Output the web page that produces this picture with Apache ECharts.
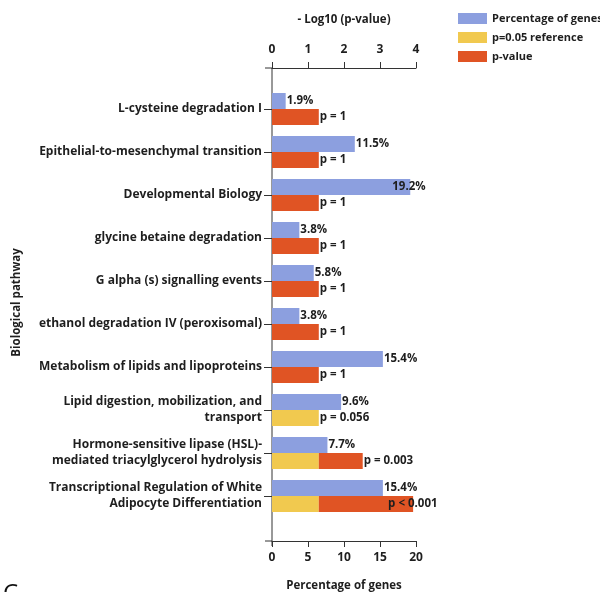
<!DOCTYPE html>
<html>
<head>
<meta charset="utf-8">
<script src="https://cdn.jsdelivr.net/npm/echarts@6/dist/echarts.min.js"></script>
<style>
  html, body { margin: 0; padding: 0; background: #ffffff; }
  #chart { width: 600px; height: 592px; }
</style>
</head>
<body>
<div id="chart"></div>
<script>
// Pathway enrichment: share of genes per pathway and its -log10(p-value)
const pathways = [
  'L-cysteine degradation I',
  'Epithelial-to-mesenchymal transition',
  'Developmental Biology',
  'glycine betaine degradation',
  'G alpha (s) signalling events',
  'ethanol degradation IV (peroxisomal)',
  'Metabolism of lipids and lipoproteins',
  'Lipid digestion, mobilization, and\ntransport',
  'Hormone-sensitive lipase (HSL)-\nmediated triacylglycerol hydrolysis',
  'Transcriptional Regulation of White\nAdipocyte Differentiation'
];
const genePercent = [1.9, 11.5, 19.2, 3.8, 5.8, 3.8, 15.4, 9.6, 7.7, 15.4];
const pValueLabels = ['p = 1', 'p = 1', 'p = 1', 'p = 1', 'p = 1', 'p = 1', 'p = 1',
                      'p = 0.056', 'p = 0.003', 'p < 0.001'];
const negLogP = [1.3, 1.3, 1.3, 1.3, 1.3, 1.3, 1.3, 1.25, 2.52, 3.92];
const referenceLevel = [null, null, null, null, null, null, null, 1.3, 1.3, 1.3];
const percentTicks = [0, 5, 10, 15, 20];
const logTicks = [0, 1, 2, 3, 4];

const BLUE = '#8c9fdf';
const YELLOW = '#f1c94f';
const RED = '#e05424';
const INK = '#1e1e1e';
const FONT = 'Open Sans';

const gridLeft = 272, gridRight = 184, gridTop = 87.5, gridBottom = 74.5;
const topOffset = 19.5, bottomOffset = 23.5;

// Labels that would run past the plot are pulled back over the bar end
const blueData = genePercent.map(v => v > 18 ? { value: v, label: { offset: [-19, 0] } } : v);
// The p-value bar is stacked on top of the reference bar
const redData = negLogP.map((v, i) => {
  const extra = Math.max(0, +(v - (referenceLevel[i] || 0)).toFixed(3));
  return v > 3.5 ? { value: extra, label: { offset: [-26, 0] } } : extra;
});

const labelStyle = { fontFamily: FONT, fontWeight: 'bold', fontSize: 11.5, color: INK };

const chart = echarts.init(document.getElementById('chart'), null, { renderer: 'canvas' });

chart.setOption({
  animation: false,
  backgroundColor: '#ffffff',
  textStyle: { fontFamily: FONT },
  legend: {
    orient: 'vertical',
    left: 453,
    top: 8,
    itemWidth: 29,
    itemHeight: 11,
    itemGap: 8,
    icon: 'rect',
    data: ['Percentage of genes', 'p=0.05 reference', 'p-value'],
    textStyle: { fontFamily: FONT, fontWeight: 'bold', fontSize: 11, color: INK }
  },
  grid: {
    left: gridLeft, right: gridRight, top: gridTop, bottom: gridBottom,
    containLabel: false,
    outerBoundsMode: 'none'
  },
  xAxis: [
    {
      type: 'value',
      position: 'bottom',
      offset: bottomOffset,
      min: percentTicks[0],
      max: percentTicks[percentTicks.length - 1],
      interval: percentTicks[1] - percentTicks[0],
      name: 'Percentage of genes',
      nameLocation: 'middle',
      nameGap: 39,
      nameTextStyle: { fontFamily: FONT, fontWeight: 'bold', fontSize: 11.5, color: INK },
      axisLine: { show: true, lineStyle: { color: '#333', width: 1 } },
      axisTick: { show: true, length: 6, lineStyle: { color: '#333' } },
      axisLabel: { margin: 11, fontFamily: FONT, fontWeight: 'bold', fontSize: 12, color: INK },
      splitLine: { show: false }
    },
    {
      type: 'value',
      position: 'top',
      offset: topOffset,
      min: logTicks[0],
      max: logTicks[logTicks.length - 1],
      interval: logTicks[1] - logTicks[0],
      name: '- Log10 (p-value)',
      nameLocation: 'middle',
      nameGap: 42,
      nameTextStyle: { fontFamily: FONT, fontWeight: 'bold', fontSize: 11.5, color: INK },
      axisLine: { show: true, lineStyle: { color: '#333', width: 1 } },
      axisTick: { show: true, length: 6, lineStyle: { color: '#333' } },
      axisLabel: { margin: 12, fontFamily: FONT, fontWeight: 'bold', fontSize: 12, color: INK },
      splitLine: { show: false }
    }
  ],
  yAxis: {
    type: 'category',
    inverse: true,
    data: pathways,
    name: 'Biological pathway',
    nameLocation: 'middle',
    nameGap: 249,
    nameRotate: 90,
    nameTextStyle: { fontFamily: FONT, fontWeight: 'bold', fontSize: 11.5, color: INK },
    axisLine: { show: false },
    axisTick: { show: true, alignWithLabel: true, length: 8, lineStyle: { color: '#333' } },
    axisLabel: {
      margin: 10,
      fontFamily: FONT, fontWeight: 'bold', fontSize: 12, color: INK,
      lineHeight: 16, align: 'right'
    },
    splitLine: { show: false }
  },
  series: [
    {
      name: 'Percentage of genes',
      type: 'bar',
      xAxisIndex: 0,
      barWidth: 16,
      barGap: '0%',
      itemStyle: { color: BLUE },
      label: { show: true, position: 'right', distance: 1, formatter: '{c}%', ...labelStyle },
      data: blueData
    },
    {
      name: 'p=0.05 reference',
      type: 'bar',
      xAxisIndex: 1,
      stack: 'p',
      barWidth: 16,
      barGap: '0%',
      itemStyle: { color: YELLOW },
      data: referenceLevel
    },
    {
      name: 'p-value',
      type: 'bar',
      xAxisIndex: 1,
      stack: 'p',
      barWidth: 16,
      barGap: '0%',
      itemStyle: { color: RED },
      label: {
        show: true, position: 'right', distance: 1,
        formatter: p => pValueLabels[p.dataIndex],
        ...labelStyle
      },
      data: redData
    }
  ]
});

// Axis frame: the vertical axis runs between the two offset x-axes,
// which reach a little past it on the left
const x0 = chart.convertToPixel({ xAxisIndex: 0 }, 0);
const yTopLine = gridTop - topOffset;
const yBottomLine = 592 - gridBottom + bottomOffset;
const lineStyle = { stroke: '#333', lineWidth: 1 };
chart.setOption({
  graphic: [
    { type: 'line', shape: { x1: x0, y1: yTopLine, x2: x0, y2: yBottomLine + 5 }, style: lineStyle, silent: true },
    { type: 'line', shape: { x1: x0 - 7, y1: yTopLine, x2: x0, y2: yTopLine }, style: lineStyle, silent: true },
    { type: 'line', shape: { x1: x0 - 7, y1: yBottomLine, x2: x0, y2: yBottomLine }, style: lineStyle, silent: true },
    { type: 'text', left: 3, top: 582, style: { text: 'C', font: '24px ' + FONT, fill: '#111' }, silent: true }
  ]
});
</script>
</body>
</html>
